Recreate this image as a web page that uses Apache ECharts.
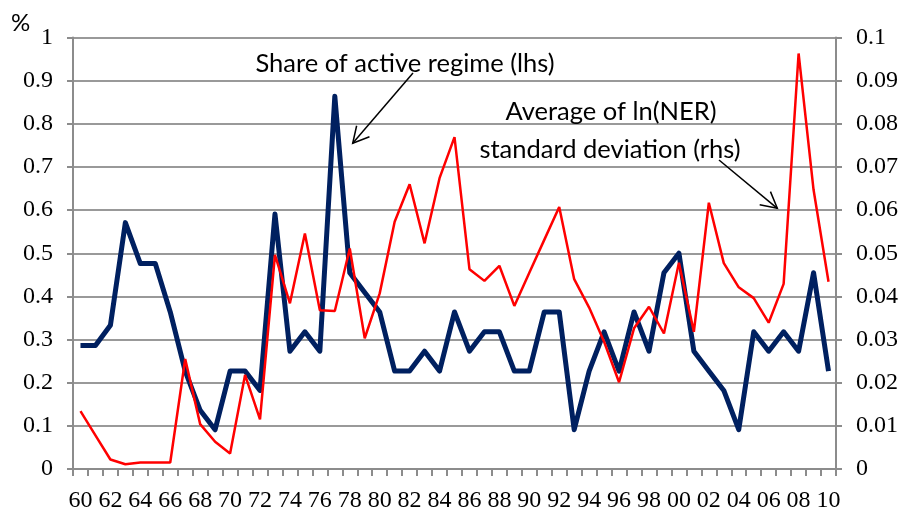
<!DOCTYPE html>
<html>
<head>
<meta charset="utf-8">
<script src="https://cdn.jsdelivr.net/npm/echarts@6/dist/echarts.min.js"></script>
<style>html,body{margin:0;padding:0;background:#fff;}#c{width:901px;height:514px;}</style>
</head>
<body>
<div id="c"></div>
<script>
const years = ['60','61','62','63','64','65','66','67','68','69','70','71','72','73','74','75','76','77','78','79','80','81','82','83','84','85','86','87','88','89','90','91','92','93','94','95','96','97','98','99','00','01','02','03','04','05','06','07','08','09','10'];
const shareActive = [0.286,0.286,0.333,0.571,0.476,0.476,0.364,0.227,0.136,0.091,0.227,0.227,0.182,0.591,0.273,0.318,0.273,0.864,0.455,0.409,0.364,0.227,0.227,0.273,0.227,0.364,0.273,0.318,0.318,0.227,0.227,0.364,0.364,0.091,0.227,0.318,0.227,0.364,0.273,0.455,0.500,0.273,0.227,0.182,0.091,0.318,0.273,0.318,0.273,0.455,0.227];
const nerStd = [0.0134,0.0078,0.0022,0.0011,0.0015,0.0015,0.0015,0.0255,0.0104,0.0063,0.0036,0.0218,0.0115,0.0496,0.0384,0.0546,0.0368,0.0366,0.0511,0.0303,0.0407,0.0573,0.0660,0.0523,0.0674,0.0769,0.0463,0.0436,0.0471,0.0378,0.0455,0.0531,0.0607,0.0440,0.0374,0.0295,0.0201,0.0326,0.0376,0.0314,0.0478,0.0318,0.0617,0.0477,0.0421,0.0396,0.0339,0.0429,0.0963,0.0647,0.0434];
const lhsTicks = ['0','0.1','0.2','0.3','0.4','0.5','0.6','0.7','0.8','0.9','1'];
const rhsTicks = ['0','0.01','0.02','0.03','0.04','0.05','0.06','0.07','0.08','0.09','0.1'];

const serif = '"Liberation Serif","Times New Roman",serif';
const sans = 'Lato, "Open Sans", sans-serif';
const axisGray = '#8c8c8c';

function arrow(x1, y1, x2, y2, len) {
  const dx = x2 - x1, dy = y2 - y1;
  const L = Math.sqrt(dx*dx + dy*dy);
  const ux = -dx / L, uy = -dy / L;
  const a = 28 * Math.PI / 180;
  const w1 = [x2 + len*(ux*Math.cos(a) - uy*Math.sin(a)), y2 + len*(ux*Math.sin(a) + uy*Math.cos(a))];
  const w2 = [x2 + len*(ux*Math.cos(-a) - uy*Math.sin(-a)), y2 + len*(ux*Math.sin(-a) + uy*Math.cos(-a))];
  const st = {stroke:'#000', lineWidth:1.5};
  return [
    {type:'line', shape:{x1:x1,y1:y1,x2:x2,y2:y2}, style:st, z:100},
    {type:'polyline', shape:{points:[w1,[x2,y2],w2]}, style:Object.assign({fill:null}, st), z:100}
  ];
}

const chart = echarts.init(document.getElementById('c'));
chart.setOption({
  animation: false,
  backgroundColor: '#fff',
  grid: {left: 73, right: 65, top: 37.5, bottom: 45, containLabel: false},
  xAxis: {
    type: 'category',
    data: years,
    boundaryGap: true,
    axisLine: {lineStyle: {color: axisGray, width: 2}},
    axisTick: {show: true, interval: 0, length: 7, lineStyle: {color: axisGray, width: 2}},
    axisLabel: {interval: 1, color: '#000', fontFamily: serif, fontSize: 24, margin: 20}
  },
  yAxis: [
    {
      type: 'value', min: 0, max: 1, interval: 0.1,
      axisLine: {show: true, lineStyle: {color: axisGray, width: 2}},
      axisTick: {show: true, length: 6, lineStyle: {color: axisGray, width: 2}},
      splitLine: {show: true, lineStyle: {color: '#999999', width: 2}},
      axisLabel: {color: '#000', fontFamily: serif, fontSize: 24, margin: 20,
        formatter: function(v){ return lhsTicks[Math.round(v*10)]; }}
    },
    {
      type: 'value', min: 0, max: 0.1, interval: 0.01,
      axisLine: {show: true, lineStyle: {color: axisGray, width: 2}},
      axisTick: {show: true, length: 6, lineStyle: {color: axisGray, width: 2}},
      splitLine: {show: false},
      axisLabel: {color: '#000', fontFamily: serif, fontSize: 24, margin: 20,
        formatter: function(v){ return rhsTicks[Math.round(v*100)]; }}
    }
  ],
  series: [
    {
      name: 'Share of active regime (lhs)', type: 'line', yAxisIndex: 0,
      data: shareActive, symbol: 'none',
      lineStyle: {color: '#002060', width: 5, join: 'round'}, z: 2
    },
    {
      name: 'Average of ln(NER) standard deviation (rhs)', type: 'line', yAxisIndex: 1,
      data: nerStd, symbol: 'none',
      lineStyle: {color: '#ff0000', width: 2.5}, z: 3
    }
  ],
  graphic: [
    {type:'text', left: 11, top: 11, style:{text:'%', font:'24px ' + sans, fill:'#000'}},
    {type:'text', x: 405, y: 64, style:{text:'Share of active regime (lhs)', font:'25.5px ' + sans, fill:'#000', align:'center', verticalAlign:'middle'}, z:100},
    {type:'text', x: 611, y: 112, style:{text:'Average of ln(NER)', font:'25.5px ' + sans, fill:'#000', align:'center', verticalAlign:'middle'}, z:100},
    {type:'text', x: 610, y: 150, style:{text:'standard deviation (rhs)', font:'25.5px ' + sans, fill:'#000', align:'center', verticalAlign:'middle'}, z:100}
  ].concat(arrow(413, 73, 352.7, 143.3, 18)).concat(arrow(719, 160, 777.3, 208.3, 18))
});
</script>
</body>
</html>
